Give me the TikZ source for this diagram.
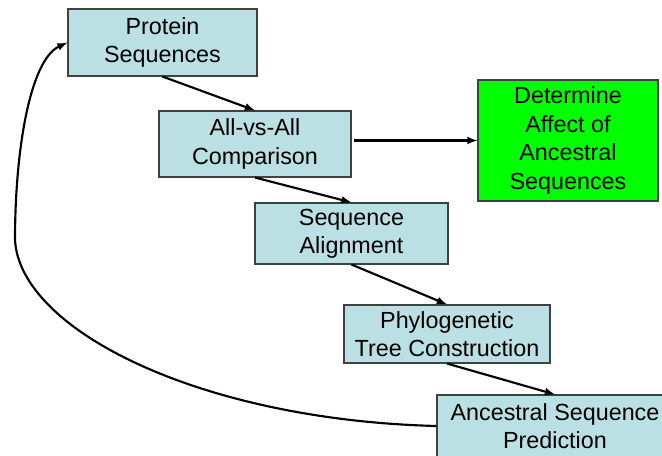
\documentclass[tikz,border=0pt]{standalone}
\usepackage{fontspec}
\setmainfont{Liberation Sans}
\definecolor{stepblue}{RGB}{187,224,227}
\definecolor{stepgreen}{RGB}{0,255,0}
\begin{document}
\begin{tikzpicture}[x=0.75pt,y=-0.75pt,
        stepbox/.style={draw=black!75,line width=0.8pt,fill=stepblue,align=center,inner sep=0pt,
            font=\fontsize{17.5}{21.3}\selectfont},
        flow/.style={-latex,line width=1.6pt}]
        \useasboundingbox (0,0) rectangle (662,456);
        \clip (0,0) rectangle (662,456);
        \fill[white] (0,0) rectangle (662,456);

        \node[stepbox,minimum width=141.75pt,minimum height=50.25pt] (prot) at (162.5,42.5) {Protein\\Sequences};
        \node[stepbox,minimum width=144pt,minimum height=49.5pt] (comp) at (255,144) {All-vs-All\\Comparison};
        \node[stepbox,fill=stepgreen,minimum width=135pt,minimum height=90.75pt] (det) at (568,140.5) {Determine\\Affect of\\Ancestral\\Sequences};
        \node[stepbox,minimum width=144.75pt,minimum height=45.75pt] (align) at (351.5,233.5) {Sequence\\Alignment};
        \node[stepbox,minimum width=154.5pt,minimum height=43.5pt] (phylo) at (447,334) {Phylogenetic\\Tree Construction};
        \node[stepbox,minimum width=177pt,minimum height=46.5pt] (pred) at (555,426) {Ancestral Sequence\\Prediction};

        \draw[flow] (prot.south) -- (comp.north);
        \draw[flow] (comp.south) -- (align.north);
        \draw[flow] (align.south) -- (phylo.north);
        \draw[flow] (phylo.south) -- (pred.north);
        \draw[flow] ([xshift=2pt]comp.east |- det.west) -- (det.west);

        \coordinate (bend) at (15,240);
        \draw[flow] (pred.west) .. controls (200,420) and (20,330) .. (bend)
            .. controls (15,150) and (30,60) .. (prot.west);
    \end{tikzpicture}
\end{document}
